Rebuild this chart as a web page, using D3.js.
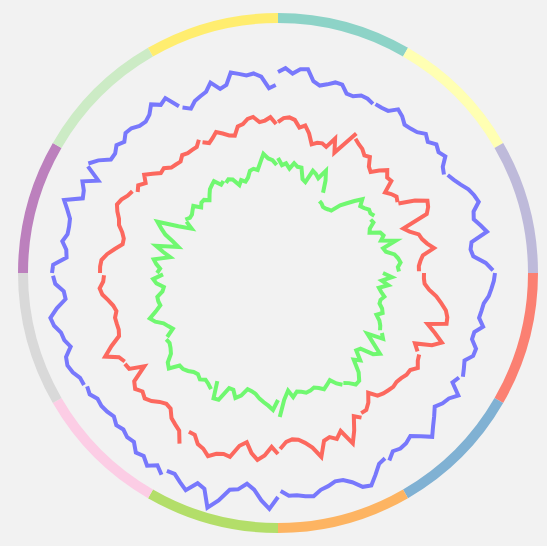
<!DOCTYPE html>
<html>
<head>
<meta charset="utf-8">
<script src="https://cdn.jsdelivr.net/npm/d3@7"></script>
<style>
  body { margin: 0; background: #f2f2f2; }
</style>
</head>
<body>
<div id="chart"></div>
<script>
const months = ['Jan', 'Feb', 'Mar', 'Apr', 'May', 'Jun', 'Jul', 'Aug', 'Sep', 'Oct', 'Nov', 'Dec']

// one row per month, readings every other day
const outerSeries = [
  [100.5,102.5,100,102.5,103,97.5,96,97.5,99.5,99.5,96,96,98,98,97],
  [97.5,97.5,98,101.5,100,97.5,98,99,101.5,99.5,102,100.5,102,98,96.5],
  [98,99.5,101.5,104,105.5,106.5,102.5,101.5,104,106.5,98,97,98,104,107.5],
  [108.5,108,107,106,104,103.5,103,106,102.5,102.5,106,106,103,104.5,106],
  [104.5,103,109,106,105,103,106,109,112.5,108.5,105,106.5,107,106,109],
  [107,108,112,116,115,111,108.5,108,109.5,110.5,113,112.5,111.5,111.5,109],
  [112,118,114,109,106.5,110,111,117.5,122.5,114,112.5,118,115.5,113,113.5],
  [116.5,113.5,116.5,113.5,114.5,111,111.5,110,111,109,110,110.5,110,112,111],
  [112,112,114,115,114,110,112,112.5,115,116,112,107,107.5,111.5,112.5],
  [113,112.5,106,106.5,109,107,107,107.5,110,113,104.5,105.5,108,101,109],
  [109.5,106,101,101,103,101,103.5,103,101,100.5,102,105.5,102.5,104,97],
  [95.5,93,95.5,96.5,97.5,101,96.5,97.5,103,101.5,100,100.5,98.5,92.5,94]
]

const middleSeries = [
  [75.5,77.5,78,77,73.5,75,71.5,66.5,68,68.5,67.5,73,66.5,72.5,80],
  [77.5,76,75,73,74,70,68.5,72,75,72.5,73,67,69,70.5,69.5],
  [69.5,77.5,83,82,80,66.5,69,73,74,76,79,73,71.5,70.5,70.5],
  [73,73,73.5,76,80,83,86,87.5,88,79,84,89,85,77,80],
  [81.5,82.5,84.5,82,82,81,80.5,81,80.5,80,79,75,79,81.5,81.5],
  [83.5,81,87.5,93,85,88,86,87,94.5,89,86,84,83.5,84.5,88],
  [90.5,87,91.5,94,91,86,88.5,95,94.5,95.5,98,95.5,94.5,91,91],
  [98.5,93,91.5,90,86.5,86,87.5,90,91.5,90,92,90,81.5,88.5,89],
  [88.5,90,96,91,85.5,84.5,84.5,84.5,83,84,86,88.5,89.5,87.5,87],
  [89,89,88.5,86,82.5,79,79,80.5,83,84,86,87.5,86.5,84.5,83.5],
  [81,82.5,80,83,80,77,77.5,75,74.5,74,76,75,75,75,77.5],
  [75.5,73.5,75,77,75,73,72,76,76.5,78.5,79,76,76.5,78,74.5]
]

const innerSeries = [
  [57.5,54,55,52.5,55.5,54,54,48.5,47.5,54,53,51.5,56.5,52,46],
  [41.5,41,40,40,40.5,41,46,49,52.5,56,53,54,55.5,55,56],
  [53.5,54,51,50,55,56,54,61,54,55,59,60.5,61.5,60,60.5],
  [52.5,57,52,55.5,51,52.5,54.5,53,53,55,56,53.5,56,57.5,58.5],
  [60,62,54,59,65,62.5,56,55,60,57.5,64,67.5,68,65.5,64],
  [64.5,62.5,59.5,61,62.5,61,60,61,61.5,60.5,60,62.5,59,63.5,72],
  [63.5,68.5,66.5,65,63.5,61.5,60.5,60,64,66,62.5,62.5,70,70.5,62],
  [67,65.5,64.5,66,64.5,65,66.5,67.5,67.5,72.5,71,67,65.5,64.5,65],
  [64,59.5,61,62.5,66,68,64,61,61.5,61.5,58.5,57.5,61,62.5,57.5],
  [60.5,59,61,62.5,54.5,58.5,62.5,51.5,55,59.5,62.5,65.5,55,48.5,52.5],
  [53.5,52,52,53,54,50.5,52,52,50,52,54,55,56,52.5,53.5],
  [52,53,52,48,50,48.5,50,53,53.5,52.5,56,60,57.5,56.5,54]
]

const seriesList = [
  {name: 'outer', values: outerSeries, color: '#7878fc'},
  {name: 'middle', values: middleSeries, color: '#fc685e'},
  {name: 'inner', values: innerSeries, color: '#70f870'}
]

class RadialChart {
  constructor (_config, parentElement, series) {
    this.config = {
      width: _config.width,
      height: _config.height,
      cx: 278,
      cy: 273,
      ringInner: 250,
      ringOuter: 260,
      parentElement: parentElement
    }
    this.series = series
    this.initVis()
  }

  initVis () {
    const vis = this

    vis.svg = d3.select(vis.config.parentElement).append('svg')
      .attr('width', vis.config.width)
      .attr('height', vis.config.height)
      .style('display', 'block')

    vis.svg.append('rect')
      .attr('width', vis.config.width)
      .attr('height', vis.config.height)
      .attr('fill', '#f2f2f2')

    vis.g = vis.svg.append('g')
      .attr('transform', `translate(${vis.config.cx},${vis.config.cy})`)

    vis.scaleAngle = d3.scaleBand()
      .domain(months)
      .range([0, 2 * Math.PI])

    // leave a small gap before the next month starts
    vis.scaleDay = d3.scaleLinear()
      .domain([0, 14])
      .range([0, vis.scaleAngle.bandwidth() * 29.3 / 30])

    vis.scaleR = d3.scaleLinear()
      .domain([0, 125])
      .range([0, vis.config.ringInner])

    vis.scaleColor = d3.scaleOrdinal(d3.schemeSet3)
      .domain(months)

    vis.ringG = vis.g.append('g')
    vis.linesG = vis.g.append('g')

    vis.renderVis()
  }

  renderVis () {
    const vis = this

    const arc = d3.arc()
      .innerRadius(vis.config.ringInner)
      .outerRadius(vis.config.ringOuter)
      .startAngle(d => vis.scaleAngle(d))
      .endAngle(d => vis.scaleAngle(d) + vis.scaleAngle.bandwidth())

    vis.ringG.selectAll('path')
      .data(months)
      .join('path')
      .attr('d', arc)
      .attr('fill', d => vis.scaleColor(d))

    vis.series.forEach(s => {
      const segs = s.values.map((vals, m) => ({month: months[m], vals}))
      vis.linesG.append('g')
        .attr('class', s.name)
        .selectAll('path')
        .data(segs)
        .join('path')
        .attr('fill', 'none')
        .attr('stroke', s.color)
        .attr('stroke-width', 4)
        .attr('d', d => d3.lineRadial()
          .angle((v, i) => vis.scaleAngle(d.month) + vis.scaleDay(i))
          .radius(v => vis.scaleR(v))(d.vals))
    })
  }
}

const chart = new RadialChart({width: 547, height: 546}, '#chart', seriesList)
</script>
</body>
</html>
